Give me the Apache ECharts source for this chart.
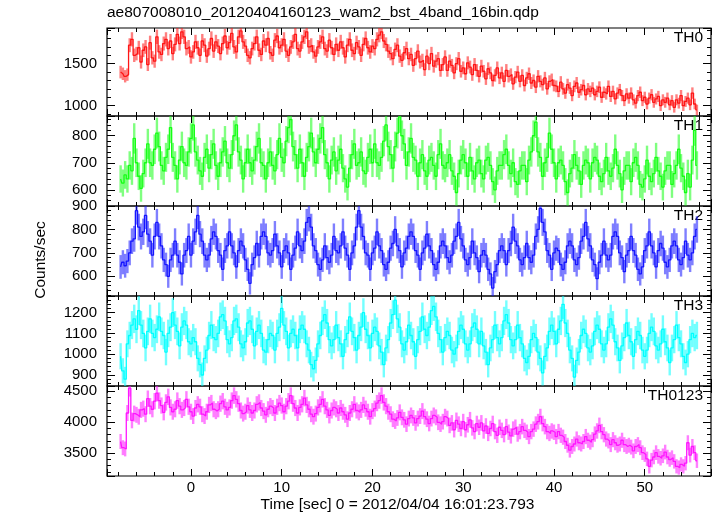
<!DOCTYPE html>
<html>
<head>
<meta charset="utf-8">
<script src="https://cdn.jsdelivr.net/npm/echarts@6/dist/echarts.min.js"></script>
<style>
html,body{margin:0;padding:0;background:#fff;}
#chart{width:717px;height:516px;}
</style>
</head>
<body>
<div id="chart"></div>
<script>
// ---- data (0.25 s bins, first bin centre at -7.75 s) ----
const binStart = -7.75;
const binWidth = 0.25;
const panelNames = ['TH0', 'TH1', 'TH2', 'TH3', 'TH0123'];
const xTickLabels = [0, 10, 20, 30, 40, 50];

const th0 = [
1400,1380,1350,1370,1720,1790,1600,1620,1690,1520,1660,1700,1490,1750,1570,1530,
1820,1640,1610,1740,1790,1680,1770,1620,1730,1850,1740,1880,1820,1680,1700,1580,
1640,1760,1690,1600,1770,1720,1590,1680,1800,1650,1760,1710,1620,1740,1830,1690,
1750,1860,1700,1640,1820,1890,1760,1710,1600,1570,1680,1740,1820,1660,1610,1770,
1720,1800,1630,1600,1780,1830,1690,1720,1790,1650,1600,1700,1760,1850,1680,1650,
1760,1820,1880,1700,1720,1640,1590,1700,1760,1820,1680,1650,1780,1690,1610,1730,
1660,1760,1690,1580,1720,1790,1660,1620,1750,1700,1600,1730,1800,1690,1640,1710,
1680,1790,1840,1880,1770,1730,1650,1620,1560,1670,1720,1590,1540,1630,1680,1560,
1610,1480,1560,1650,1520,1540,1430,1590,1500,1620,1470,1530,1560,1420,1490,1580,
1420,1530,1480,1390,1500,1560,1410,1450,1380,1510,1460,1370,1490,1420,1350,1470,
1410,1320,1440,1390,1300,1360,1450,1330,1390,1290,1420,1350,1370,1260,1340,1400,
1290,1360,1240,1330,1380,1270,1300,1220,1350,1290,1250,1330,1200,1290,1310,1240,
1230,1170,1280,1200,1150,1250,1210,1120,1230,1270,1160,1190,1240,1130,1200,1170,
1210,1130,1170,1220,1100,1160,1140,1230,1110,1170,1080,1150,1190,1120,1060,1140,
1090,1150,1070,1030,1120,1160,1060,1100,1020,1090,1130,1040,1080,1110,1000,1070,
1040,1090,1010,1060,980,1070,1030,1120,1000,1050,1090,1010,1150,1020,950
];
const th1 = [
640,625,655,640,690,670,790,700,650,605,660,700,770,700,690,750,
810,760,690,670,720,750,830,720,690,640,710,760,700,690,740,790,
840,740,710,670,650,720,750,680,730,770,690,650,700,740,780,700,
680,730,800,840,740,710,640,700,750,700,670,710,760,790,700,690,
640,700,740,690,670,730,790,720,700,780,830,860,760,730,680,750,
700,650,720,760,810,740,700,750,790,830,730,700,640,710,740,670,
710,750,680,640,610,680,730,770,690,700,740,670,660,720,750,700,
770,700,690,720,780,840,760,730,680,760,810,870,800,770,690,740,
790,720,710,650,700,730,670,650,710,720,690,650,730,770,690,680,
700,730,670,650,590,660,710,730,700,650,720,670,640,700,710,660,
640,710,720,690,630,600,670,690,690,730,750,690,660,700,630,620,
670,690,690,630,710,740,800,850,740,720,650,700,720,810,750,700,
640,700,710,690,630,590,660,680,730,690,670,620,690,710,700,640,
700,720,710,650,630,660,720,670,650,680,750,690,660,600,670,690,
690,630,700,720,690,620,610,640,710,650,630,660,720,670,650,610,
670,690,690,620,660,690,750,680,650,590,660,610,710,820,690
];
const th2 = [
640,660,645,665,700,750,760,880,810,770,790,860,780,750,690,770,
830,770,730,670,650,600,670,690,750,690,660,610,690,710,770,690,
750,790,860,780,750,690,670,690,760,790,770,710,690,630,710,730,
790,730,700,640,710,750,730,670,630,570,650,680,740,690,770,790,
770,700,690,710,780,730,700,640,710,730,700,630,690,720,790,730,
710,750,830,850,810,730,710,650,630,670,730,680,660,690,770,710,
700,730,790,720,690,630,700,730,810,880,810,770,700,690,630,700,
720,790,730,710,650,630,660,720,740,800,730,710,640,700,720,770,
790,770,710,690,630,700,720,780,730,710,650,630,660,730,750,730,
680,660,690,750,770,830,760,730,670,650,680,750,700,680,620,690,
710,690,630,610,550,620,650,710,730,710,650,710,740,810,750,730,
670,650,680,740,680,660,690,770,800,890,830,790,710,690,630,700,
720,710,650,630,660,730,750,730,670,650,680,750,770,830,760,730,
670,650,590,660,690,750,690,670,690,770,790,770,700,680,620,690,
710,770,710,690,630,610,640,710,730,790,730,700,640,710,740,720,
660,640,670,730,750,730,670,650,680,750,690,670,700,770,800
];
const th3 = [
990,920,880,1050,1090,1140,1170,1120,1210,1140,1100,1030,1110,1170,1100,1080,
1120,1180,1110,1090,1010,1100,1130,1200,1140,1110,1040,1130,1160,1140,1060,1050,
1080,1060,980,950,900,980,1020,1090,1140,1080,1070,1100,1180,1190,1160,1070,
1050,1080,1160,1170,1130,1050,1030,1060,1150,1160,1120,1040,1110,1140,1100,1020,
1010,1070,1100,1090,1020,1100,1130,1220,1140,1110,1030,1100,1120,1090,1030,1120,
1140,1120,1050,1020,950,930,970,1050,1090,1160,1190,1150,1070,1040,1070,1140,
1080,1050,990,1070,1100,1180,1110,1080,1020,1090,1130,1200,1120,1090,1030,1100,
1130,1110,1040,1010,950,1030,1070,1150,1190,1260,1170,1130,1050,1020,1060,1140,
1090,1060,990,1070,1110,1180,1120,1090,1130,1210,1230,1180,1100,1070,1010,1080,
1110,1090,1020,1000,1030,1110,1140,1120,1050,1020,1050,1130,1150,1120,1050,1110,
1040,1010,950,1030,1070,1140,1080,1050,1080,1160,1190,1150,1070,1040,1070,1140,
1080,1050,980,960,990,1070,1100,1080,1010,980,910,990,1030,1110,1140,1110,
1050,1120,1160,1240,1150,1100,1020,980,890,970,1010,1090,1120,1100,1030,1010,
1040,1110,1140,1120,1050,1020,1050,1130,1170,1140,1060,1030,970,1040,1080,1150,
1090,1060,990,1070,1110,1090,1020,990,1020,1100,1130,1110,1040,1020,1050,1120,
1060,1030,960,1030,1070,1140,1080,1050,990,960,1000,1070,1100,1080,1090
];
const th0123 = [
3690,3590,3570,4150,4550,4030,4140,4120,4090,4200,4220,4130,4380,4260,4210,4340,
4470,4350,4270,4160,4320,4410,4240,4170,4210,4350,4260,4200,4230,4370,4250,4170,
4100,4230,4290,4250,4130,4100,4170,4280,4310,4210,4180,4210,4300,4340,4250,4200,
4240,4350,4430,4370,4300,4190,4140,4170,4270,4200,4150,4190,4290,4320,4230,4180,
4120,4210,4260,4230,4150,4250,4310,4270,4170,4260,4340,4430,4300,4230,4150,4240,
4290,4390,4280,4210,4130,4090,4140,4240,4290,4370,4260,4200,4110,4190,4240,4210,
4150,4230,4170,4120,4050,4150,4210,4290,4190,4160,4200,4280,4220,4170,4090,4180,
4220,4310,4350,4430,4320,4260,4170,4130,4050,4020,4070,4160,4080,4040,3970,4060,
4110,4070,3990,4060,4100,4180,4090,4050,3980,4060,4110,4080,4000,3970,4010,4090,
4060,3950,3990,3880,4030,3970,3900,4010,3880,3960,4040,3910,3850,3980,3920,3990,
3860,3940,3820,3900,3980,3850,3790,3920,3870,3800,3930,3840,3780,3890,3920,3810,
3850,3930,3870,3840,3770,3850,3890,3970,4010,4090,3980,3930,3850,3820,3860,3840,
3770,3850,3790,3760,3690,3630,3550,3610,3650,3730,3670,3650,3690,3770,3710,3680,
3720,3810,3860,3950,3850,3800,3730,3700,3640,3720,3670,3630,3650,3710,3640,3610,
3630,3600,3540,3610,3640,3590,3510,3480,3410,3290,3390,3440,3510,3450,3420,3460,
3520,3440,3400,3430,3370,3290,3270,3320,3290,3340,3670,3470,3610,3510,3380
];
const panelValues = [th0, th1, th2, th3, th0123];

// ---- layout / style (not data) ----
const colors = ['#ff1515', '#15ff15', '#1515ff', '#00ffff', '#ff15ff'];
const yRanges = [[877, 1925], [540, 873], [516, 900], [847, 1280], [3134, 4585]];
const ySplit = [2, 3, 4, 4, 3];
const yStep = [500, 100, 100, 100, 500];
const tops = [28, 116, 206, 296, 386];
const bottomEdge = 476;
const xMin = -9.25, xMax = 57.3;
const FONT = 'Liberation Sans, Arial, Helvetica, sans-serif';

const grids = [], xAxes = [], yAxes = [], series = [], graphics = [];
const tickStyle = {color: '#000', width: 1};

for (let i = 0; i < 5; i++) {
  const top = tops[i];
  const h = (i < 4 ? tops[i + 1] : bottomEdge) - top;
  grids.push({left: 107, right: 6, top: top, height: h, show: true,
    borderColor: '#000', borderWidth: 1.2, backgroundColor: 'transparent'});
  const isLast = i === 4;
  ['bottom', 'top'].forEach((pos, k) => {
    xAxes.push({
      type: 'value', gridIndex: i, position: pos, min: xMin, max: xMax, splitNumber: 7,
      axisLine: {show: false, onZero: false},
      axisTick: {show: true, inside: true, length: 7, lineStyle: tickStyle},
      minorTick: {show: true, splitNumber: 5, length: 4, lineStyle: tickStyle},
      splitLine: {show: false}, minorSplitLine: {show: false},
      axisLabel: {show: isLast && k === 0, margin: 4, fontSize: 15, fontFamily: FONT, color: '#000',
        formatter: v => (xTickLabels.indexOf(Math.round(v * 1000) / 1000) >= 0 ? String(v) : '')}
    });
  });
  ['left', 'right'].forEach((pos, k) => {
    yAxes.push({
      type: 'value', gridIndex: i, position: pos, min: yRanges[i][0], max: yRanges[i][1],
      splitNumber: ySplit[i],
      axisLine: {show: false, onZero: false},
      axisTick: {show: true, inside: true, length: 8, lineStyle: tickStyle},
      minorTick: {show: true, splitNumber: 5, length: 4, lineStyle: tickStyle},
      splitLine: {show: false}, minorSplitLine: {show: false},
      axisLabel: {show: k === 0, margin: 10, fontSize: 15, fontFamily: FONT, color: '#000',
        formatter: v => (Math.abs(v % yStep[i]) < 1e-6 ? String(v) : '')}
    });
  });

  const vals = panelValues[i];
  const lineData = vals.map((v, j) => [binStart + j * binWidth, v]);
  // Poisson error of a 0.25 s bin: sqrt(rate*0.25)/0.25
  const errData = vals.map((v, j) => [binStart + j * binWidth, v, Math.sqrt(v * binWidth) / binWidth]);
  const yr = yRanges[i];
  const col = colors[i];
  series.push({
    type: 'custom', xAxisIndex: 2 * i, yAxisIndex: 2 * i, data: errData,
    encode: {x: 0, y: 1}, z: 2, silent: true,
    renderItem: (params, api) => {
      const t = api.value(0), v = api.value(1), e = api.value(2);
      const lo = Math.max(v - e, yr[0]), hi = Math.min(v + e, yr[1]);
      const p1 = api.coord([t, lo]), p2 = api.coord([t, hi]);
      return {type: 'line', shape: {x1: p1[0], y1: p1[1], x2: p2[0], y2: p2[1]},
        style: {stroke: col, lineWidth: 2.4, opacity: 0.55}};
    }
  });
  series.push({
    type: 'line', xAxisIndex: 2 * i, yAxisIndex: 2 * i, data: lineData,
    step: 'middle', symbol: 'none', z: 3, silent: true,
    lineStyle: {color: col, width: 1.3}
  });

  graphics.push({type: 'text', right: 717 - 703, top: top + 2,
    style: {text: panelNames[i], font: '15.5px ' + FONT, fill: '#000'}});
}

graphics.push({type: 'text', left: 107, top: 5,
  style: {text: 'ae807008010_20120404160123_wam2_bst_4band_16bin.qdp', font: '15.5px ' + FONT, fill: '#000'}});
graphics.push({type: 'text', x: 397.5, y: 505,
  style: {text: 'Time [sec] 0 = 2012/04/04 16:01:23.793', font: '15.5px ' + FONT, fill: '#000',
    align: 'center', verticalAlign: 'middle'}});
graphics.push({type: 'text', x: 41, y: 260, rotation: Math.PI / 2,
  style: {text: 'Counts/sec', font: '15.5px ' + FONT, fill: '#000', align: 'center', verticalAlign: 'middle'}});

const chart = echarts.init(document.getElementById('chart'), null, {renderer: 'canvas'});
chart.setOption({
  animation: false,
  backgroundColor: '#fff',
  grid: grids,
  xAxis: xAxes,
  yAxis: yAxes,
  series: series,
  graphic: graphics
});
</script>
</body>
</html>
